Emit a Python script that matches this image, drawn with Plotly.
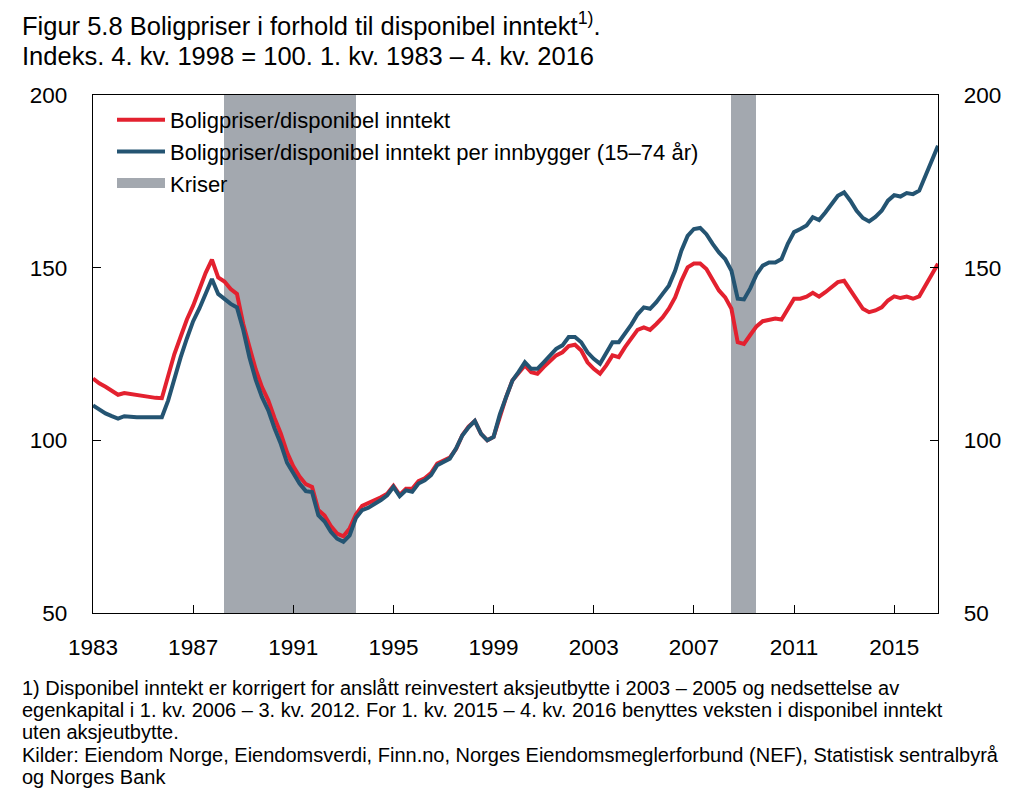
import plotly.graph_objects as go

# ---- data (quarterly, 1. kv. 1983 – 4. kv. 2016) ----
years = list(range(1983, 2017))
quarter_x = [y + q / 4 for y in years for q in range(4)]

boligpriser_inntekt = [
    117.9, 116.5, 115.5, 114.5,   # 1983
    113.2, 113.7, 113.4, 113.0,   # 1984
    112.9, 112.6, 112.3, 112.2,   # 1985
    119.0, 125.0, 130.0, 135.0,   # 1986
    139.0, 144.0, 148.5, 152.3,   # 1987
    147.2, 146.0, 143.8, 142.4,   # 1988
    133.7, 127.0, 120.5, 115.4,   # 1989
    111.6, 106.5, 102.0, 96.5,    # 1990
    92.5, 89.5, 87.3, 86.5,       # 1991
    79.8, 78.2, 75.2, 73.0,       # 1992
    72.2, 74.5, 78.5, 81.0,       # 1993
    81.8, 82.5, 83.5, 84.5,       # 1994
    86.8, 84.2, 86.0, 86.0,       # 1995
    88.2, 89.0, 90.5, 93.3,       # 1996
    94.0, 95.0, 97.5, 101.5,      # 1997
    104.0, 105.6, 101.9, 100.0,   # 1998
    101.0, 107.0, 112.5, 117.3,   # 1999
    119.3, 121.7, 119.7, 119.3,   # 2000
    121.2, 123.0, 124.6, 125.5,   # 2001
    127.3, 127.7, 126.0, 122.6,   # 2002
    120.7, 119.3, 121.7, 124.6,   # 2003
    124.1, 127.0, 129.5, 132.0,   # 2004
    132.7, 132.0, 133.7, 135.6,   # 2005
    138.1, 141.4, 146.2, 150.1,   # 2006
    151.2, 151.2, 149.6, 146.7,   # 2007
    143.4, 141.4, 138.1, 128.4,   # 2008
    127.9, 130.5, 133.0, 134.5,   # 2009
    135.0, 135.3, 135.0, 138.1,   # 2010
    141.0, 141.0, 141.6, 142.7,   # 2011
    141.6, 142.9, 144.5, 145.8,   # 2012
    146.2, 143.4, 140.5, 138.1,   # 2013
    137.1, 137.6, 138.5, 140.5,   # 2014
    141.7, 141.2, 141.6, 141.0,   # 2015
    141.7, 144.8, 147.7, 151.1,   # 2016
]

boligpriser_inntekt_per_innbygger = [
    110.1, 108.8, 107.8, 107.0,   # 1983
    106.3, 107.0, 106.8, 106.7,   # 1984
    106.7, 106.7, 106.6, 106.7,   # 1985
    111.5, 118.0, 124.0, 129.5,   # 1986
    134.5, 138.2, 142.5, 146.7,   # 1987
    142.4, 141.0, 139.5, 138.5,   # 1988
    132.0, 124.0, 117.5, 112.5,   # 1989
    108.7, 103.5, 99.0, 93.5,     # 1990
    90.5, 87.5, 85.3, 85.0,       # 1991
    78.3, 76.5, 73.5, 71.5,       # 1992
    70.6, 72.5, 77.5, 79.8,       # 1993
    80.5, 81.5, 82.7, 84.1,       # 1994
    86.5, 83.8, 85.5, 85.1,       # 1995
    87.5, 88.4, 89.9, 92.8,       # 1996
    93.7, 94.7, 97.6, 101.4,      # 1997
    103.8, 105.6, 101.9, 100.0,   # 1998
    101.0, 107.5, 112.5, 117.3,   # 1999
    119.8, 122.6, 120.7, 120.7,   # 2000
    122.6, 124.6, 126.5, 127.5,   # 2001
    129.9, 129.9, 128.4, 125.5,   # 2002
    123.6, 122.2, 125.1, 128.4,   # 2003
    128.4, 130.8, 133.5, 136.5,   # 2004
    138.5, 138.1, 140.0, 142.4,   # 2005
    144.8, 149.1, 154.9, 159.2,   # 2006
    161.2, 161.5, 159.7, 156.9,   # 2007
    154.4, 152.5, 149.1, 141.0,   # 2008
    140.8, 144.0, 148.0, 150.6,   # 2009
    151.5, 151.5, 152.5, 156.9,   # 2010
    160.3, 161.2, 162.2, 164.6,   # 2011
    163.8, 166.0, 168.6, 170.8,   # 2012
    171.8, 169.4, 166.5, 164.4,   # 2013
    163.4, 164.7, 166.5, 169.4,   # 2014
    171.0, 170.6, 171.6, 171.3,   # 2015
    172.3, 176.6, 180.5, 185.3,   # 2016
]

crisis_start = [1988.25, 2008.5]
crisis_end = [1993.5, 2009.5]

tick_years = [1983, 1987, 1991, 1995, 1999, 2003, 2007, 2011, 2015]
y_ticks = [50, 100, 150, 200]
y_min, y_max = 50, 200
x_min, x_max = 1983, 2016.75

title_lines = [
    "Figur 5.8 Boligpriser i forhold til disponibel inntekt<sup>1)</sup>.",
    "Indeks. 4. kv. 1998 = 100. 1. kv. 1983 – 4. kv. 2016",
]
footnote_lines = [
    "1) Disponibel inntekt er korrigert for anslått reinvestert aksjeutbytte i 2003 – 2005 og nedsettelse av",
    "egenkapital i 1. kv. 2006 – 3. kv. 2012. For 1. kv. 2015 – 4. kv. 2016 benyttes veksten i disponibel inntekt",
    "uten aksjeutbytte.",
    "Kilder: Eiendom Norge, Eiendomsverdi, Finn.no, Norges Eiendomsmeglerforbund (NEF), Statistisk sentralbyrå",
    "og Norges Bank",
]

RED = "#E3212F"
BLUE = "#245472"
GREY = "#A3A8AF"
FONT = "Liberation Sans, Arial, sans-serif"

# figure geometry (page body has an 8px margin)
W, H = 1016, 789
ML, MR, MT, MB = 85, 86, 87, 184
PW, PH = W - ML - MR, H - MT - MB

fig = go.Figure()

# crisis bands as bars
fig.add_trace(go.Bar(
    x=[(s + e) / 2 for s, e in zip(crisis_start, crisis_end)],
    width=[e - s for s, e in zip(crisis_start, crisis_end)],
    y=[y_max - y_min] * len(crisis_start),
    base=[y_min] * len(crisis_start),
    marker=dict(color=GREY, line=dict(width=0)),
    name="Kriser",
    showlegend=False,
    legendgroup="kriser",
    hoverinfo="skip",
))

fig.add_trace(go.Scatter(
    x=quarter_x, y=boligpriser_inntekt, mode="lines",
    line=dict(color=RED, width=4),
    name="Boligpriser/disponibel inntekt",
    legendrank=1,
))
fig.add_trace(go.Scatter(
    x=quarter_x, y=boligpriser_inntekt_per_innbygger, mode="lines",
    line=dict(color=BLUE, width=4),
    name="Boligpriser/disponibel inntekt per innbygger (15–74 år)",
    legendrank=2,
))
# legend entry for the crisis bands (thick grey swatch)
fig.add_trace(go.Scatter(
    x=[None], y=[None], mode="lines",
    line=dict(color=GREY, width=20),
    name="Kriser", legendgroup="kriser", legendrank=3,
))
# invisible trace for right axis
fig.add_trace(go.Scatter(
    x=[x_min, x_max], y=[y_min, y_max], yaxis="y2", mode="lines",
    line=dict(width=0), showlegend=False, hoverinfo="skip", opacity=0,
))

axis_common = dict(
    showgrid=False, zeroline=False,
    showline=True, linecolor="black", linewidth=1.3,
    ticks="inside", ticklen=8, tickwidth=1.2, tickcolor="black",
    tickfont=dict(family=FONT, size=22.5, color="black"),
)


def py(fig_y):
    return 1 + (MT - fig_y) / PH


def px(fig_x):
    return (fig_x - ML) / PW


annotations = []
for txt, cy in zip(title_lines, [16, 48]):
    annotations.append(dict(
        xref="paper", yref="paper", x=px(12), y=py(cy),
        xanchor="left", yanchor="middle", showarrow=False, align="left",
        text=txt, font=dict(family=FONT, size=25.5, color="black")))
for txt, cy in zip(footnote_lines, [680, 702, 724, 747, 769]):
    annotations.append(dict(
        xref="paper", yref="paper", x=px(12), y=py(cy),
        xanchor="left", yanchor="middle", showarrow=False, align="left",
        text=txt, font=dict(family=FONT, size=20, color="black")))

fig.update_layout(
    width=W, height=H,
    margin=dict(l=ML, r=MR, t=MT, b=MB),
    paper_bgcolor="white", plot_bgcolor="white",
    font=dict(family=FONT, color="black"),
    bargap=0,
    xaxis=dict(range=[x_min, x_max], tickvals=tick_years,
               ticktext=[str(t) for t in tick_years],
               mirror=True, ticklabelstandoff=14, **axis_common),
    yaxis=dict(range=[y_min, y_max], tickvals=y_ticks,
               mirror=True, ticklabelstandoff=20, **axis_common),
    yaxis2=dict(range=[y_min, y_max], tickvals=y_ticks, overlaying="y",
                side="right", ticklabelstandoff=20, **axis_common),
    legend=dict(
        x=px(104), y=py(91), xanchor="left", yanchor="top",
        bgcolor="rgba(0,0,0,0)",
        font=dict(family=FONT, size=22, color="black"),
        itemwidth=48,
        tracegroupgap=0,
    ),
    showlegend=True,
    annotations=annotations,
)

fig.write_html("out.html")
